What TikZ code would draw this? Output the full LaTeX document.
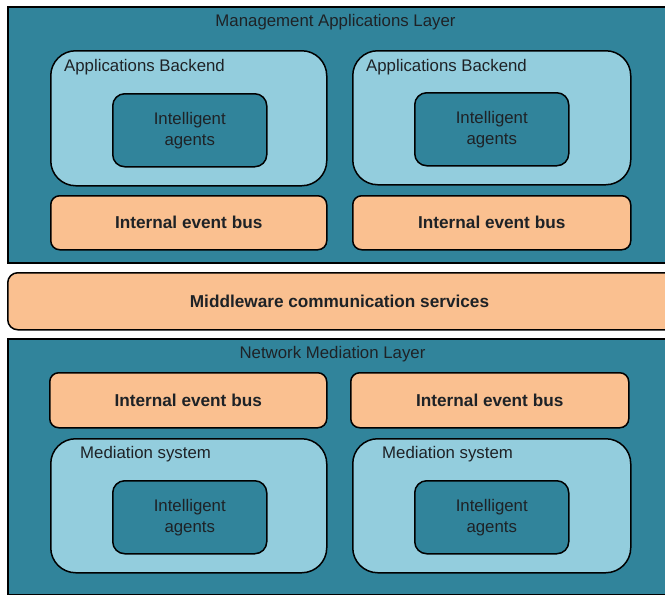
\documentclass[tikz,border=0pt]{standalone}
\usepackage{fontspec}
\setmainfont{Liberation Sans}
\definecolor{layerteal}{HTML}{31849B}
\definecolor{boxblue}{HTML}{93CDDD}
\definecolor{busorange}{HTML}{FAC090}
\definecolor{inkdark}{HTML}{1E2226}
\begin{document}
\begin{tikzpicture}[x=1pt,y=-1pt,
  base/.style={draw=black, line width=1.5pt, inner sep=0pt, anchor=north west,
    text=inkdark, align=center},
  layer/.style={base, fill=layerteal},
  container/.style={base, fill=boxblue, rounded corners=25pt},
  agentbox/.style={base, fill=layerteal, rounded corners=12pt,
    minimum width=154pt, minimum height=73pt,
    font=\fontsize{16.8}{21}\selectfont},
  busbox/.style={base, fill=busorange, rounded corners=9pt,
    font=\fontsize{17.2}{21}\selectfont\bfseries},
  lbl/.style={inner sep=0pt, text=inkdark, font=\fontsize{16.8}{21}\selectfont}
]
\clip (0,0) rectangle (665,595);

% Management applications layer
\node[layer, minimum width=680pt, minimum height=256pt] (mgmt) at (7,6) {};
\node[lbl] (mgmtT) at (335.5,22) {Management Applications Layer};

\node[container, minimum width=276pt, minimum height=135pt] (back1) at (50,50) {};
\node[lbl, anchor=west] (back1T) at (64,67) {Applications Backend};
\node[agentbox] (ag1) at (112,93) {Intelligent\\agents};
\node[busbox, minimum width=276pt, minimum height=54pt] (bus1) at (50,195) {Internal event bus};

\node[container, minimum width=278pt, minimum height=134pt] (back2) at (352,50) {};
\node[lbl, anchor=west] (back2T) at (366,67) {Applications Backend};
\node[agentbox] (ag2) at (414,92) {Intelligent\\agents};
\node[busbox, minimum width=278pt, minimum height=54pt] (bus2) at (352,195) {Internal event bus};

% Middleware bar
\node[busbox, rounded corners=10pt, minimum width=680pt, minimum height=57pt] (mw) at (7,272) {};
\node[lbl, font=\fontsize{17.2}{21}\selectfont\bfseries] (mwT) at (339.5,301) {Middleware communication services};

% Network mediation layer
\node[layer, minimum width=680pt, minimum height=256pt] (net) at (7,338) {};
\node[lbl] (netT) at (332.5,354) {Network Mediation Layer};

\node[busbox, minimum width=277pt, minimum height=55pt] (bus3) at (49,372) {Internal event bus};
\node[busbox, minimum width=278pt, minimum height=55pt] (bus4) at (350,372) {Internal event bus};

\node[container, minimum width=276pt, minimum height=134pt] (med1) at (50,438) {};
\node[lbl, anchor=west] (med1T) at (80,454) {Mediation system};
\node[agentbox] (ag3) at (112,480) {Intelligent\\agents};

\node[container, minimum width=278pt, minimum height=134pt] (med2) at (352,438) {};
\node[lbl, anchor=west] (med2T) at (382,454) {Mediation system};
\node[agentbox] (ag4) at (414,480) {Intelligent\\agents};
\end{tikzpicture}
\end{document}
